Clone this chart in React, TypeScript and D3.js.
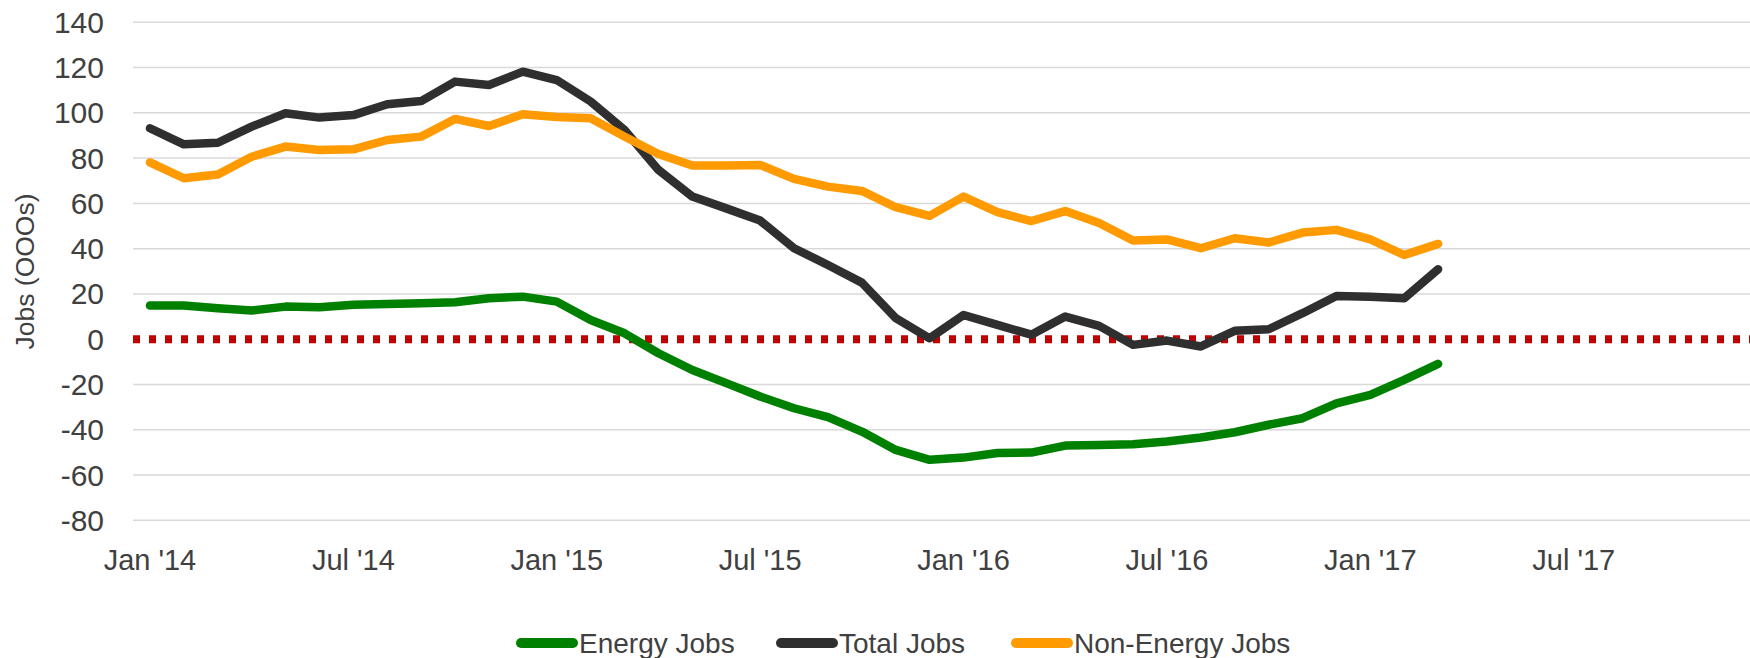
import React from 'react';
import * as d3 from 'd3';

// monthly values, Jan '14 .. Mar '17 (000s of jobs)
const energyJobs = [14.9, 14.9, 13.7, 12.7, 14.4, 14.1, 15.2, 15.6, 15.9, 16.3, 18.1, 18.8, 16.6, 8.5, 2.6, -6.2, -13.6, -19.4, -25.3, -30.5, -34.4, -40.8, -48.9, -53.3, -52.3, -50.3, -50.1, -47, -46.7, -46.4, -45.2, -43.4, -41.1, -37.8, -34.9, -28.3, -24.6, -18, -10.9];
const totalJobs = [93.2, 86.1, 86.8, 93.9, 99.8, 97.9, 99, 103.8, 105.2, 113.8, 112.3, 118.2, 114.5, 105, 92.4, 74.8, 63, 57.8, 52.4, 40.2, 32.8, 25, 9.3, 0.4, 10.7, 6.3, 2, 10, 5.9, -2.5, -0.6, -3.2, 3.7, 4.4, 11.5, 19.1, 18.8, 18.1, 30.9];
const nonEnergyJobs = [78.1, 71.1, 72.8, 80.6, 85.1, 83.6, 83.9, 88, 89.5, 97.3, 94.2, 99.4, 98.2, 97.6, 89.5, 81.8, 76.7, 76.7, 77, 70.8, 67.4, 65.5, 58.3, 54.5, 63, 56.1, 52.2, 56.6, 51.3, 43.6, 44.1, 40.2, 44.6, 42.7, 47.1, 48.3, 44.1, 37.2, 42.1];

const tickLabels = ["Jan '14", "Jul '14", "Jan '15", "Jul '15", "Jan '16", "Jul '16", "Jan '17", "Jul '17"];
const tickMonths = [0, 6, 12, 18, 24, 30, 36, 42];
const yTicks = [140, 120, 100, 80, 60, 40, 20, 0, -20, -40, -60, -80];

const series = [
  { name: 'Energy Jobs', values: energyJobs, color: '#008000' },
  { name: 'Total Jobs', values: totalJobs, color: '#2f2f2f' },
  { name: 'Non-Energy Jobs', values: nonEnergyJobs, color: '#ff9a00' },
];

const width = 1750;
const height = 658;
const font = '"Liberation Sans", Arial, sans-serif';
const textColor = '#404040';

const App = () => {
  const x = d3.scaleLinear().domain([-0.5, 47.2]).range([133, 1750]);
  const y = d3.scaleLinear().domain([-80, 140]).range([520.3, 22.3]);

  const line = d3.line<number>()
    .x((d, i) => x(i))
    .y(d => y(d));

  // legend positions (left edge of each swatch)
  const legendX = [517, 777, 1012];

  return (
    <div style={{ position: 'absolute', left: 0, top: 0 }}>
      <svg width={width} height={height} style={{ display: 'block', background: '#fff' }}>
        {/* gridlines */}
        {yTicks.filter(t => t !== 0).map(t => (
          <line key={t} x1={x.range()[0]} x2={width} y1={y(t)} y2={y(t)} stroke="#d9d9d9" strokeWidth={1.5} />
        ))}

        {/* zero line, red dotted */}
        <line x1={x.range()[0]} x2={width} y1={y(0)} y2={y(0)} stroke="#c00000" strokeWidth={8} strokeDasharray="7 9" />

        {/* y tick labels */}
        {yTicks.map(t => (
          <text key={t} x={104} y={y(t)} dy="0.35em" textAnchor="end" fontFamily={font} fontSize={30} fill={textColor}>
            {t}
          </text>
        ))}

        {/* y title */}
        <text transform={`translate(33.5,271.5) rotate(-90)`} textAnchor="middle" fontFamily={font} fontSize={26.5} fill={textColor}>
          Jobs (OOOs)
        </text>

        {/* x tick labels */}
        {tickMonths.map((m, i) => (
          <text key={m} x={x(m)} y={570} textAnchor="middle" fontFamily={font} fontSize={29} fill={textColor}>
            {tickLabels[i]}
          </text>
        ))}

        {/* series lines */}
        {series.map(s => (
          <path key={s.name} d={line(s.values) || ''} fill="none" stroke={s.color} strokeWidth={8.5} strokeLinecap="round" strokeLinejoin="round" />
        ))}

        {/* legend */}
        {series.map((s, i) => (
          <g key={s.name} transform={`translate(${legendX[i]},643)`}>
            <line x1={4} x2={56} y1={0} y2={0} stroke={s.color} strokeWidth={10} strokeLinecap="round" />
            <text x={62} y={0} dy="0.35em" fontFamily={font} fontSize={28} fill={textColor}>
              {s.name}
            </text>
          </g>
        ))}
      </svg>
    </div>
  );
};

export default App;
